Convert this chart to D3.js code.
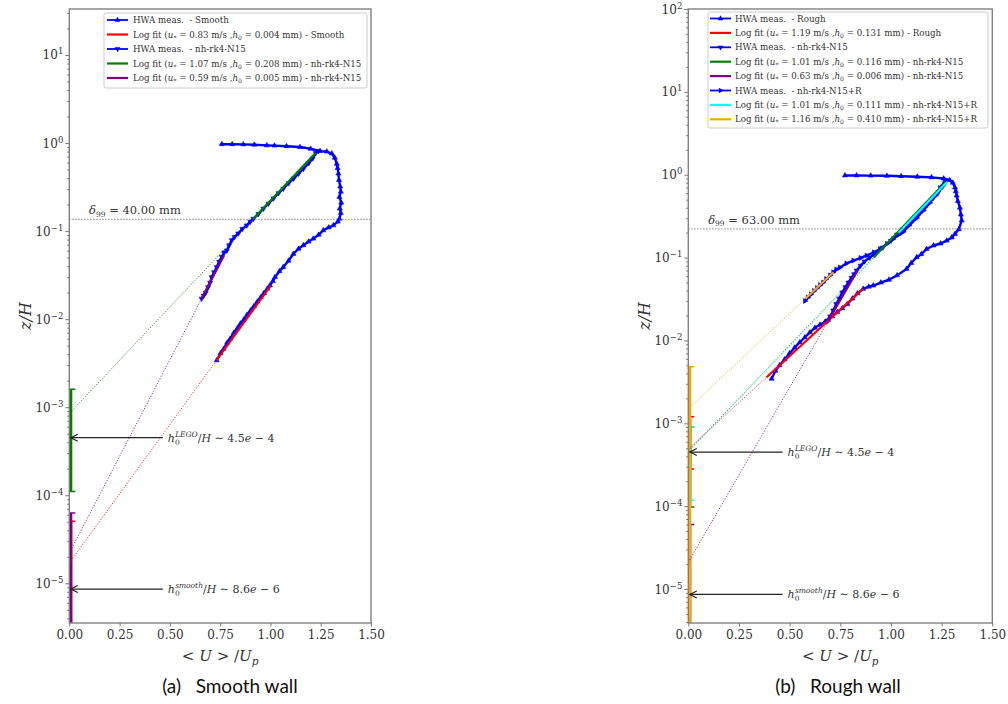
<!DOCTYPE html>
<html><head><meta charset="utf-8">
<script src="https://cdn.jsdelivr.net/npm/d3@7"></script>
<style>body{margin:0;background:#fff}svg{display:block}text{white-space:pre}</style>
</head><body>
<svg id="c" width="1008" height="704"></svg>
<script>
// ================= DATA =================
// Panel (a) Smooth wall : measurements [U/Up, z/H]
const aMeasSmooth = [[0.733,3.4e-3],[0.752,4.1e-3],[0.768,4.6e-3],[0.785,5.4e-3],[0.80,6.0e-3],[0.818,7.0e-3],[0.836,7.9e-3],[0.851,8.9e-3],[0.868,9.9e-3],[0.884,1.12e-2],[0.902,1.26e-2],[0.918,1.40e-2],[0.935,1.58e-2],[0.952,1.77e-2],[0.968,1.98e-2],[0.985,2.22e-2],[0.998,2.42e-2],[1.012,2.7e-2],[1.023,3.0e-2],[1.045,3.5e-2],[1.064,3.9e-2],[1.09,4.6e-2],[1.114,5.5e-2],[1.14,6.3e-2],[1.164,6.9e-2],[1.19,7.6e-2],[1.213,8.2e-2],[1.24,9.1e-2],[1.263,1.02e-1],[1.29,1.10e-1],[1.313,1.16e-1],[1.335,1.28e-1],[1.343,1.38e-1],[1.35,1.6e-1],[1.345,1.8e-1],[1.352,2.1e-1],[1.343,2.44e-1],[1.35,2.8e-1],[1.347,3.2e-1],[1.341,3.8e-1],[1.338,4.5e-1],[1.334,5.2e-1],[1.330,5.8e-1],[1.32,6.8e-1],[1.305,7.6e-1],[1.28,8.0e-1],[1.247,8.1e-1],[1.20,8.6e-1],[1.147,9.0e-1],[1.08,9.2e-1],[1.02,9.35e-1],[0.982,9.4e-1],[0.92,9.55e-1],[0.865,9.65e-1],[0.81,9.7e-1],[0.758,9.7e-1]];
const aMeasN15 = [[0.658,1.71e-2],[0.668,1.85e-2],[0.678,2.0e-2],[0.69,2.3e-2],[0.70,2.6e-2],[0.708,3.0e-2],[0.72,3.4e-2],[0.733,3.9e-2],[0.745,4.5e-2],[0.758,5.1e-2],[0.77,5.7e-2],[0.783,6.0e-2],[0.795,6.9e-2],[0.808,7.9e-2],[0.822,8.6e-2],[0.84,9.4e-2],[0.86,1.06e-1],[0.882,1.16e-1],[0.90,1.28e-1],[0.915,1.38e-1],[0.94,1.56e-1],[0.965,1.80e-1],[0.99,2.05e-1],[1.015,2.35e-1],[1.04,2.7e-1],[1.064,3.03e-1],[1.09,3.5e-1],[1.115,3.95e-1],[1.14,4.5e-1],[1.164,5.1e-1],[1.19,5.9e-1],[1.21,6.7e-1],[1.225,7.7e-1],[1.238,8.1e-1]];
const aFitNames  = ["Smooth","nh-rk4-N15","nh-rk4-N15"];
const aFitUstar  = ["0.83","1.07","0.59"];
const aFitH0mm   = ["0.004","0.208","0.005"];
const aFitColors = ["red","green","purple"];
const aFitZ0     = [1.7e-5, 8.5e-4, 2.2e-5];   // z/H where the fit reaches U=0
const aFitSlope  = [0.318, 0.414, 0.2276];     // U/Up gained per decade of z/H
const aFitRange  = [[3.4e-3,2.42e-2],[0.138,0.77],[1.71e-2,5.3e-2]];
const aErrLo = [1e-8, 1.1e-4, 1e-8];
const aErrHi = [5.06e-5, 1.6e-3, 6.3e-5];
const aDelta = 0.136, aDeltaMM = "40.00";

// Panel (b) Rough wall
const bMeasRough = [[0.411,3.45e-3],[0.43,4.3e-3],[0.45,5.0e-3],[0.475,5.9e-3],[0.50,7.0e-3],[0.525,8.2e-3],[0.55,9.5e-3],[0.575,1.09e-2],[0.60,1.25e-2],[0.625,1.42e-2],[0.65,1.55e-2],[0.675,1.68e-2],[0.69,1.76e-2],[0.71,1.95e-2],[0.735,2.2e-2],[0.76,2.45e-2],[0.785,2.75e-2],[0.81,3.2e-2],[0.835,3.7e-2],[0.863,4.2e-2],[0.89,4.45e-2],[0.913,4.6e-2],[0.95,5.0e-2],[0.99,5.4e-2],[1.03,6.1e-2],[1.077,7.3e-2],[1.10,8.6e-2],[1.127,1.01e-1],[1.15,1.10e-1],[1.176,1.27e-1],[1.21,1.40e-1],[1.245,1.48e-1],[1.275,1.60e-1],[1.30,1.75e-1],[1.316,1.93e-1],[1.335,2.2e-1],[1.349,2.8e-1],[1.345,3.3e-1],[1.340,4.0e-1],[1.33,4.8e-1],[1.324,5.6e-1],[1.32,6.3e-1],[1.316,7.0e-1],[1.305,8.0e-1],[1.29,8.6e-1],[1.26,9.0e-1],[1.20,9.3e-1],[1.13,9.45e-1],[1.05,9.6e-1],[0.98,9.7e-1],[0.90,9.75e-1],[0.83,9.8e-1],[0.773,9.8e-1]];
const bMeasN15 = [[0.689,1.74e-2],[0.70,1.95e-2],[0.715,2.3e-2],[0.73,2.75e-2],[0.745,3.2e-2],[0.76,3.8e-2],[0.775,4.4e-2],[0.79,5.0e-2],[0.805,5.7e-2],[0.818,6.3e-2],[0.831,7.0e-2],[0.85,8.0e-2],[0.87,9.0e-2],[0.895,1.0e-1],[0.925,1.12e-1],[0.96,1.32e-1],[1.0,1.6e-1],[1.03,1.9e-1],[1.06,2.2e-1],[1.09,2.6e-1],[1.12,3.1e-1],[1.15,3.7e-1],[1.18,4.4e-1],[1.21,5.3e-1],[1.235,6.2e-1],[1.255,7.2e-1],[1.268,8.0e-1]];
const bMeasN15R = [[0.576,3.0e-2],[0.59,3.3e-2],[0.605,3.6e-2],[0.62,3.95e-2],[0.635,4.3e-2],[0.65,4.65e-2],[0.665,5.0e-2],[0.68,5.5e-2],[0.70,6.1e-2],[0.715,6.65e-2],[0.73,7.2e-2],[0.748,7.6e-2],[0.78,8.5e-2],[0.814,9.2e-2],[0.85,9.9e-2],[0.88,1.06e-1],[0.915,1.16e-1],[0.946,1.27e-1],[0.98,1.47e-1],[1.011,1.68e-1],[1.04,1.90e-1],[1.061,2.05e-1],[1.09,2.45e-1],[1.127,3.0e-1],[1.16,3.7e-1],[1.192,4.6e-1],[1.22,5.6e-1],[1.242,6.9e-1],[1.266,8.4e-1]];
const bFitNames  = ["Rough","nh-rk4-N15","nh-rk4-N15","nh-rk4-N15+R","nh-rk4-N15+R"];
const bFitUstar  = ["1.19","1.01","0.63","1.01","1.16"];
const bFitH0mm   = ["0.131","0.116","0.006","0.111","0.410"];
const bFitColors = ["red","green","purple","cyan","orange"];
const bFitZ0     = [4.9e-4, 4.6e-4, 2.1e-5, 4.5e-4, 1.5e-3];
const bFitSlope  = [0.446, 0.391, 0.237, 0.392, 0.435];
const bFitRange  = [[3.6e-3,4.2e-2],[0.1,0.8],[1.74e-2,7.0e-2],[0.2,0.82],[3.19e-2,6.65e-2]];
const bErrLo = [2.8e-4, 9.8e-5, 1e-8, 1.18e-4, 1e-8];
const bErrHi = [1.2e-3, 9.0e-4, 6.0e-5, 9.0e-4, 4.8e-3];
const bDelta = 0.222, bDeltaMM = "63.00";

// shared annotations
const annZ   = [4.5e-4, 8.6e-6];
const annSup = ["LEGO", "smooth"];
const annVal = ["4.5", "8.6"];
const annExp = ["4", "6"];
const xTicks = [0, 0.25, 0.5, 0.75, 1.0, 1.25, 1.5];

// ================= DRAW =================
const svg = d3.select("#c");
const SERIF = "DejaVu Serif";
const TXT = "#333";

function rich(t, parts) {
  let cur = 0;
  parts.forEach(p => {
    const ts = t.append("tspan").text(p.t);
    if (p.i) ts.attr("font-style", "italic");
    const s = p.dy || 0;
    if (s !== cur) { ts.attr("dy", s - cur); cur = s; }
    if (p.fs) ts.attr("font-size", p.fs);
    if (p.dx) ts.attr("dx", p.dx);
  });
}

function panel(cfg, id) {
  const g = svg.append("g");
  const x = d3.scaleLinear().domain([0, 1.5]).range([cfg.x0, cfg.x1]);
  const y = d3.scaleLog().domain(cfg.yDom).range([cfg.yBot, cfg.yTop]);
  const clipId = "clip" + id;
  svg.append("clipPath").attr("id", clipId).append("rect")
    .attr("x", cfg.x0).attr("y", cfg.yTop).attr("width", cfg.x1 - cfg.x0).attr("height", cfg.yBot - cfg.yTop);
  const pc = g.append("g").attr("clip-path", `url(#${clipId})`);

  // axes ticks
  const lo = Math.floor(Math.log10(cfg.yDom[0])), hi = Math.ceil(Math.log10(cfg.yDom[1]));
  const majors = [], minors = [];
  for (let e = lo; e <= hi; e++) {
    const v = Math.pow(10, e);
    if (v >= cfg.yDom[0] * 0.999 && v <= cfg.yDom[1] * 1.001) majors.push(v);
    for (let m = 2; m <= 9; m++) { const w = m * v; if (w >= cfg.yDom[0] && w <= cfg.yDom[1]) minors.push(w); }
  }
  const ay = g.append("g").attr("transform", `translate(${cfg.x0},0)`)
    .call(d3.axisLeft(y).tickValues(majors).tickFormat("").tickSize(4));
  const ay2 = g.append("g").attr("transform", `translate(${cfg.x0},0)`)
    .call(d3.axisLeft(y).tickValues(minors).tickFormat("").tickSize(2.2));
  const ax = g.append("g").attr("transform", `translate(0,${cfg.yBot})`)
    .call(d3.axisBottom(x).tickValues(xTicks).tickFormat(d3.format(".2f")).tickSize(3.5).tickPadding(4));
  [ay, ay2, ax].forEach(a => { a.select(".domain").remove(); a.selectAll("line").attr("stroke", "#777"); });
  ax.selectAll("text").attr("font-family", SERIF).attr("font-size", 12).attr("fill", TXT);
  majors.forEach(v => {
    const e = Math.round(Math.log10(v));
    const t = g.append("text").attr("x", cfg.x0 - 6).attr("y", y(v) + 4.5)
      .attr("text-anchor", "end").attr("font-family", SERIF).attr("font-size", 12).attr("fill", TXT);
    rich(t, [{t: "10"}, {t: (e < 0 ? "\u2212" : "") + Math.abs(e), dy: -5, fs: 8.5}]);
  });

  // delta99 line
  g.append("line").attr("x1", cfg.x0).attr("x2", cfg.x1).attr("y1", y(cfg.delta)).attr("y2", y(cfg.delta))
    .attr("stroke", "#666").attr("stroke-width", 1).attr("stroke-dasharray", "1.2,1.8");
  const dt = g.append("text").attr("x", x(0.098)).attr("y", y(cfg.delta) - 5)
    .attr("font-family", SERIF).attr("font-size", 11.5).attr("fill", TXT);
  rich(dt, [{t: "\u03b4", i: 1}, {t: "99", dy: 2.5, fs: 7.5}, {t: " = " + cfg.deltaMM + " mm", dy: 0}]);

  // error bars at U=0
  cfg.errLo.forEach((l, i) => {
    const c = cfg.fitColors[i];
    pc.append("line").attr("x1", x(0)).attr("x2", x(0)).attr("y1", y(Math.max(l, cfg.yDom[0] * 0.5))).attr("y2", y(cfg.errHi[i]))
      .attr("stroke", c).attr("stroke-width", 6);
    [l, cfg.errHi[i]].forEach(v => {
      if (v > cfg.yDom[0]) pc.append("line").attr("x1", x(0) - 6).attr("x2", x(0) + 6).attr("y1", y(v)).attr("y2", y(v))
        .attr("stroke", c).attr("stroke-width", 1.5);
    });
  });

  // fit dotted extensions
  const line = d3.line().x(d => x(d[0])).y(d => y(d[1]));
  const fitU = (i, z) => cfg.fitSlope[i] * Math.log10(z / cfg.fitZ0[i]);
  cfg.fitZ0.forEach((z0, i) => {
    const zh = cfg.fitRange[i][1];
    pc.append("path").attr("d", line([[0, z0], [fitU(i, zh), zh]])).attr("fill", "none")
      .attr("stroke", cfg.fitColors[i]).attr("stroke-width", 1).attr("stroke-dasharray", "1.2,1.6").attr("opacity", 0.85);
  });

  // measurements
  cfg.meas.forEach((m, k) => {
    pc.append("path").attr("d", line(m.data)).attr("fill", "none").attr("stroke", "blue").attr("stroke-width", 2.4)
      .attr("stroke-linejoin", "round");
    pc.selectAll(null).data(m.data).join("path")
      .attr("transform", d => `translate(${x(d[0])},${y(d[1])}) rotate(${m.rot})`)
      .attr("d", d3.symbol(d3.symbolTriangle).size(11)).attr("fill", "blue").attr("stroke", "blue").attr("stroke-width", 0.6);
  });

  // fit solid lines
  cfg.fitZ0.forEach((z0, i) => {
    const r = cfg.fitRange[i];
    pc.append("path").attr("d", line([[fitU(i, r[0]), r[0]], [fitU(i, r[1]), r[1]]])).attr("fill", "none")
      .attr("stroke", cfg.fitColors[i]).attr("stroke-width", 2.2);
  });

  // frame
  g.append("rect").attr("x", cfg.x0).attr("y", cfg.yTop).attr("width", cfg.x1 - cfg.x0).attr("height", cfg.yBot - cfg.yTop)
    .attr("fill", "none").attr("stroke", "#808080").attr("stroke-width", 1.4);

  // annotations
  annZ.forEach((z, i) => {
    const yy = y(z), tip = x(0) + 1.5, tail = x(0.465);
    g.append("line").attr("x1", tail).attr("x2", tip).attr("y1", yy).attr("y2", yy).attr("stroke", "#222").attr("stroke-width", 1.2);
    g.append("path").attr("d", `M${tip + 7},${yy - 3.5}L${tip},${yy}L${tip + 7},${yy + 3.5}`)
      .attr("fill", "none").attr("stroke", "#222").attr("stroke-width", 1.2);
    const t = g.append("text").attr("x", x(0.49)).attr("y", yy + 4).attr("font-family", SERIF).attr("font-size", 11).attr("fill", TXT);
    rich(t, [{t: "h", i: 1}, {t: "0", dy: 3, fs: 7.5}, {t: annSup[i], i: 1, dy: -5, fs: 7.5, dx: -4.6},
      {t: "/", dy: 0}, {t: "H", i: 1}, {t: " \u223c " + annVal[i]}, {t: "e", i: 1}, {t: " \u2212 " + annExp[i]}]);
  });

  // legend
  const L = cfg.legend;
  g.append("rect").attr("x", L.x).attr("y", L.y).attr("width", L.w).attr("height", L.h).attr("rx", 2)
    .attr("fill", "#fff").attr("fill-opacity", 0.85).attr("stroke", "#ccc").attr("stroke-width", 1);
  L.items.forEach((it, j) => {
    const yy = L.y + L.first + j * L.step;
    g.append("line").attr("x1", L.x + L.hx).attr("x2", L.x + L.hx + 21).attr("y1", yy).attr("y2", yy)
      .attr("stroke", it.color).attr("stroke-width", it.meas ? 1.8 : 2.2);
    if (it.meas) g.append("path").attr("transform", `translate(${L.x + L.hx + 10.5},${yy}) rotate(${it.rot})`)
      .attr("d", d3.symbol(d3.symbolTriangle).size(14)).attr("fill", "blue");
    const t = g.append("text").attr("x", L.x + L.tx).attr("y", yy + 3).attr("font-family", SERIF).attr("font-size", 8.7).attr("fill", TXT);
    if (it.meas) rich(t, [{t: "HWA meas.  - " + it.name}]);
    else rich(t, [{t: "Log fit ("}, {t: "u", i: 1}, {t: "*", dy: 2, fs: 6}, {t: " = " + it.u + " m/s ,", dy: 0},
      {t: "h", i: 1}, {t: "0", dy: 2, fs: 6}, {t: " = " + it.h + " mm) - " + it.name, dy: 0}]);
  });

  // axis labels
  const xl = g.append("text").attr("x", (cfg.x0 + cfg.x1) / 2).attr("y", cfg.yBot + 38).attr("text-anchor", "middle")
    .attr("font-family", SERIF).attr("font-size", 15).attr("fill", TXT);
  rich(xl, [{t: "< "}, {t: "U", i: 1}, {t: " > /"}, {t: "U", i: 1}, {t: "p", i: 1, dy: 3.5, fs: 10.5}]);
  g.append("text").attr("transform", `translate(${cfg.x0 - 38},${(cfg.yTop + cfg.yBot) / 2}) rotate(-90)`)
    .attr("text-anchor", "middle").attr("font-family", SERIF).attr("font-size", 16).attr("font-style", "italic").attr("fill", TXT)
    .text("z/H");
  // caption
  g.append("text").attr("x", cfg.capX).attr("y", 693).attr("text-anchor", "middle")
    .attr("font-family", "Lato, 'Open Sans', sans-serif").attr("font-size", 19).attr("fill", "#111").text(cfg.caption);
}

function legendItems(meas, names, us, hs, colors, order) {
  return order.map(o => o.m !== undefined
    ? {meas: 1, color: "blue", name: meas[o.m].name, rot: meas[o.m].rot}
    : {color: colors[o.f], u: us[o.f], h: hs[o.f], name: names[o.f]});
}

const aMeas = [{name: "Smooth", data: aMeasSmooth, rot: 0}, {name: "nh-rk4-N15", data: aMeasN15, rot: 180}];
panel({
  x0: 69.3, x1: 371, yTop: 9, yBot: 623, yDom: [Math.pow(10, -5.451), Math.pow(10, 1.522)],
  meas: aMeas, fitColors: aFitColors, fitZ0: aFitZ0, fitSlope: aFitSlope, fitRange: aFitRange,
  errLo: aErrLo, errHi: aErrHi, delta: aDelta, deltaMM: aDeltaMM, capX: 230, caption: "(a)   Smooth wall",
  legend: {x: 104, y: 13, w: 263, h: 75, first: 7, step: 14.5, hx: 3, tx: 29,
    items: legendItems(aMeas, aFitNames, aFitUstar, aFitH0mm, aFitColors, [{m: 0}, {f: 0}, {m: 1}, {f: 1}, {f: 2}])}
}, "a");

const bMeas = [{name: "Rough", data: bMeasRough, rot: 0}, {name: "nh-rk4-N15", data: bMeasN15, rot: 180}, {name: "nh-rk4-N15+R", data: bMeasN15R, rot: 90}];
panel({
  x0: 688.3, x1: 992.3, yTop: 9, yBot: 623, yDom: [Math.pow(10, -5.41), 100],
  meas: bMeas, fitColors: bFitColors, fitZ0: bFitZ0, fitSlope: bFitSlope, fitRange: bFitRange,
  errLo: bErrLo, errHi: bErrHi, delta: bDelta, deltaMM: bDeltaMM, capX: 838, caption: "(b)   Rough wall",
  legend: {x: 708, y: 12, w: 280, h: 116, first: 6.5, step: 14.4, hx: 2, tx: 27,
    items: legendItems(bMeas, bFitNames, bFitUstar, bFitH0mm, bFitColors, [{m: 0}, {f: 0}, {m: 1}, {f: 1}, {f: 2}, {m: 2}, {f: 3}, {f: 4}])}
}, "b");
</script>
</body></html>
